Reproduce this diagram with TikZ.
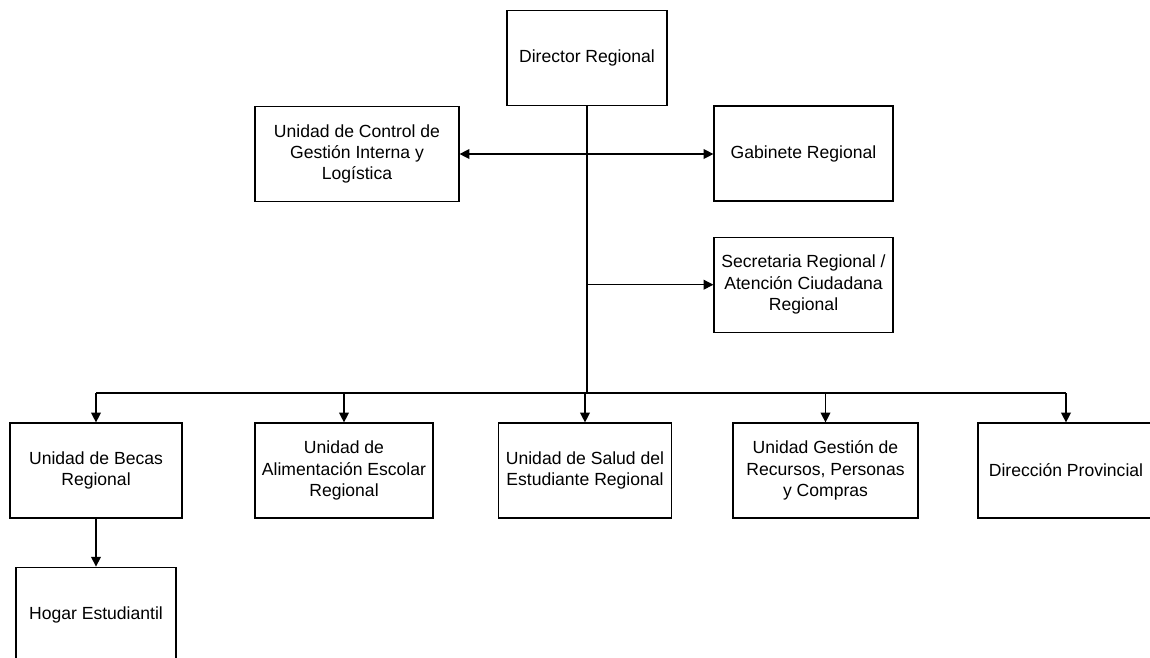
\documentclass[tikz,border=0pt]{standalone}
\usepackage{fontspec}
\setmainfont{Liberation Sans}
\usetikzlibrary{positioning, arrows.meta}
\tikzset{
	>={Triangle[length=5.6pt,width=5.6pt]},
	unit/.style={draw, line width=0.7pt, align=center, minimum height=1.9cm, inner sep=1pt,
		font=\fontsize{10}{12.2}\selectfont},
	link/.style={line width=0.7pt},
	trunk/.style={line width=1.3pt}}

\begin{document}
\begin{tikzpicture}[x=0.02cm, y=-0.02cm]
		\useasboundingbox (0,0) rectangle (1150,657);
		\clip (0,0) rectangle (1150,657);
		
		\node[unit, minimum width=3.2cm] (dir) at (587,58) {Director Regional};
		\node[unit, minimum width=4.08cm] (ucg) at (357,154) {Unidad de Control de\\Gestión Interna y\\Logística};
		\node[unit, minimum width=3.58cm] (gab) at (803.5,153.5) {Gabinete Regional};
		\node[unit, minimum width=3.58cm, below=0.7cm of gab] (sec) {Secretaria Regional /\\Atención Ciudadana\\Regional};
		
		\node[unit, minimum width=3.44cm] (becas) at (96,470.5) {Unidad de Becas\\Regional};
		\node[unit, minimum width=3.56cm] (alim) at (344,470.5) {Unidad de\\Alimentación Escolar\\Regional};
		\node[unit, minimum width=3.46cm] (salud) at (585,470.5) {Unidad de Salud del\\Estudiante Regional};
		\node[unit, minimum width=3.7cm] (gest) at (825.5,470.5) {Unidad Gestión de\\Recursos, Personas\\y Compras};
		\node[unit, minimum width=3.52cm] (prov) at (1066,470.5) {Dirección Provincial};
		\node[unit, minimum width=3.2cm, below=0.96cm of becas] (hogar) {Hogar Estudiantil};
		
		\coordinate (hub) at (587,393);
		
		\draw[trunk] (dir) -- (hub);
		\draw[link, <->] (ucg.east) -- (ucg.east -| gab.west);
		\draw[link, ->] (sec.west -| dir.south) -- (sec.west);
		\draw[link] (becas.north |- hub) -- (prov.north |- hub);
		\foreach \n in {becas, alim, salud, gest, prov}
			\draw[link, ->] (\n.north |- hub) -- (\n.north);
		\draw[link, ->] (becas) -- (hogar);
	\end{tikzpicture}
\end{document}
